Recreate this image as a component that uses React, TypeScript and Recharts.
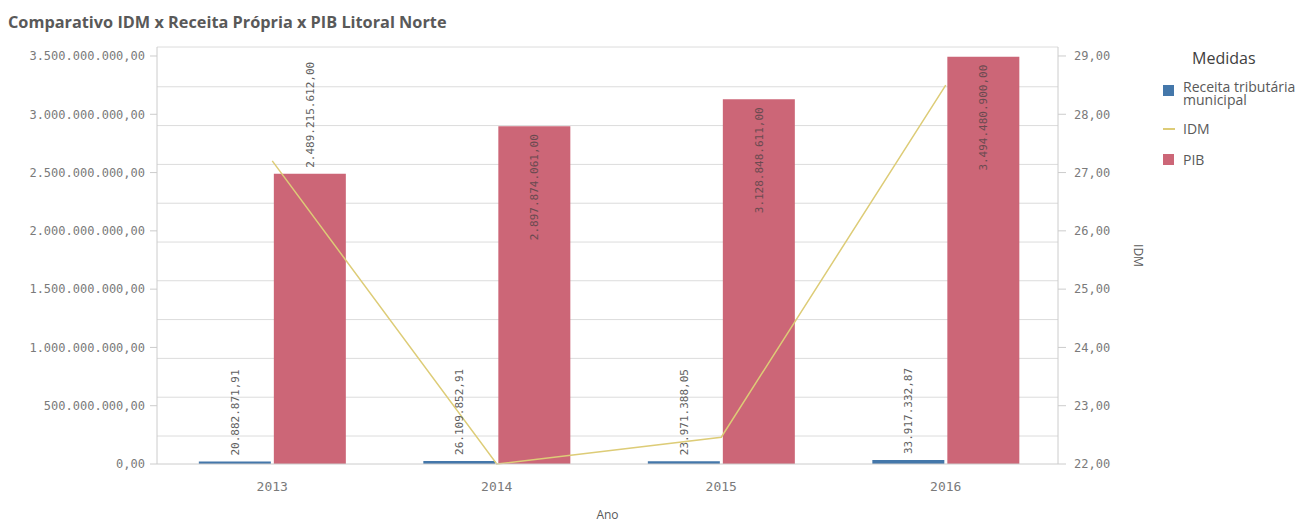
import React from 'react';
import {
  ComposedChart,
  Bar,
  Line,
  XAxis,
  YAxis,
  LabelList,
  ReferenceLine,
  CartesianGrid,
} from 'recharts';

// ---- data ----
const years = ['2013', '2014', '2015', '2016'];
const receita = [20882871.91, 26109852.91, 23971388.05, 33917332.87];
const idm = [27.2, 22.0, 22.46, 28.5];
const pib = [2489215612.0, 2897874061.0, 3128848611.0, 3494480900.0];

const leftTicks = [0, 500000000, 1000000000, 1500000000, 2000000000, 2500000000, 3000000000, 3500000000];
const rightTicks = [22, 23, 24, 25, 26, 27, 28, 29];
// horizontal grid levels (left-axis units) as drawn by the source chart
const gridLevels = [240e6, 573e6, 906e6, 1239e6, 1572e6, 1904e6, 2237e6, 2570e6, 2903e6, 3236e6];

const seriesNames = { receita: 'Receita tributária municipal', idm: 'IDM', pib: 'PIB' };

const data = years.map((y, i) => ({ ano: y, receita: receita[i], idm: idm[i], pib: pib[i] }));

// ---- styles ----
const BLUE = '#4477aa';
const YELLOW = '#ddcc77';
const RED = '#cc6677';
const AXIS_TEXT = '#7a7a7a';
const GRID = '#dcdcdc';
const MONO = '"DejaVu Sans Mono", monospace';
const SANS = '"Open Sans", "Noto Sans", sans-serif';

const W = 1312;
const H = 523;
const PLOT_TOP = 47;
const LEFT_MAX = 3577200000;
const RIGHT_MAX = 29.154;

function fmtBR(v: number): string {
  const neg = v < 0;
  const [int, dec] = Math.abs(v).toFixed(2).split('.');
  const withDots = int.replace(/\B(?=(\d{3})+(?!\d))/g, '.');
  return (neg ? '-' : '') + withDots + ',' + dec;
}

const makeLabel = (canGoInside: boolean) => (props: any) => {
  const { x, y, width, value } = props;
  if (value == null) return null;
  const text = fmtBR(Number(value));
  const fs = 11;
  const len = text.length * fs * 0.602;
  const cx = Number(x) + Number(width) / 2;
  const top = Number(y);
  const outside = !canGoInside || top - PLOT_TOP >= len + 12;
  const ay = outside ? top - 6 : top + 8;
  return (
    <text
      x={cx}
      y={ay}
      transform={`rotate(-90 ${cx} ${ay})`}
      textAnchor={outside ? 'start' : 'end'}
      dy="0.35em"
      fontSize={fs}
      fontFamily={MONO}
      fill={outside ? '#5f5f5f' : '#6a4a50'}
    >
      {text}
    </text>
  );
};

// place grid lines at the left-axis levels, using the plot offset the chart computed
const gridGenerator = (props: any) => {
  const off = props?.offset;
  if (!off || typeof off.top !== 'number' || typeof off.height !== 'number') return [];
  return gridLevels.map((g) => off.top + off.height * (1 - g / LEFT_MAX));
};

const legendItems = [
  { key: 'receita', color: BLUE, kind: 'square' },
  { key: 'idm', color: YELLOW, kind: 'line' },
  { key: 'pib', color: RED, kind: 'square' },
];
const legendTops = [80, 122, 153];

export default function App() {
  return (
    <div style={{ position: 'absolute', left: 0, top: 0, width: W, height: H, background: '#fff' }}>
      <div
        style={{
          position: 'absolute',
          left: 8,
          top: 10,
          fontFamily: SANS,
          fontWeight: 700,
          fontSize: 16.3,
          lineHeight: '24px',
          color: '#595959',
          whiteSpace: 'nowrap',
        }}
      >
        Comparativo IDM x Receita Própria x PIB Litoral Norte
      </div>

      <ComposedChart
        width={W}
        height={H}
        data={data}
        margin={{ top: PLOT_TOP, right: 94, bottom: 0, left: 0 }}
        barCategoryGap="17.3%"
        barGap={3}
      >
        <CartesianGrid
          yAxisId="left"
          vertical={false}
          stroke={GRID}
          horizontalCoordinatesGenerator={gridGenerator}
        />
        <XAxis
          dataKey="ano"
          height={59}
          padding={{ left: 3, right: 0 }}
          tickLine={false}
          tickSize={6}
          tickMargin={12}
          axisLine={{ stroke: '#cccccc' }}
          tick={{ fill: AXIS_TEXT, fontSize: 13, fontFamily: MONO }}
          label={{ value: 'Ano', position: 'insideBottom', offset: 4, fill: '#595959', fontSize: 12, fontFamily: SANS }}
        />
        <YAxis
          yAxisId="left"
          orientation="left"
          width={157}
          domain={[0, LEFT_MAX]}
          ticks={leftTicks}
          tickFormatter={(v: number) => fmtBR(v)}
          tickSize={7}
          tickMargin={5}
          tickLine={{ stroke: '#cccccc' }}
          axisLine={{ stroke: '#cccccc' }}
          tick={{ fill: AXIS_TEXT, fontSize: 12, fontFamily: MONO }}
          interval={0}
        />
        <YAxis
          yAxisId="right"
          orientation="right"
          width={160}
          domain={[22, RIGHT_MAX]}
          ticks={rightTicks}
          tickFormatter={(v: number) => fmtBR(v)}
          tickSize={8}
          tickMargin={8}
          tickLine={{ stroke: '#cccccc' }}
          axisLine={{ stroke: '#cccccc' }}
          tick={{ fill: AXIS_TEXT, fontSize: 12, fontFamily: MONO }}
          interval={0}
          label={{ value: 'IDM', angle: 90, position: 'center', fill: '#595959', fontSize: 12, fontFamily: SANS }}
        />
        <ReferenceLine yAxisId="left" y={LEFT_MAX} stroke={GRID} />
        <Bar yAxisId="left" dataKey="receita" name={seriesNames.receita} fill={BLUE} isAnimationActive={false}>
          <LabelList dataKey="receita" content={makeLabel(false)} />
        </Bar>
        <Bar yAxisId="left" dataKey="pib" name={seriesNames.pib} fill={RED} isAnimationActive={false}>
          <LabelList dataKey="pib" content={makeLabel(true)} />
        </Bar>
        <Line
          yAxisId="right"
          dataKey="idm"
          name={seriesNames.idm}
          type="linear"
          stroke={YELLOW}
          strokeWidth={1.5}
          dot={false}
          activeDot={false}
          isAnimationActive={false}
        />
      </ComposedChart>

      <div style={{ position: 'absolute', left: 1192, top: 46, fontFamily: SANS, fontSize: 16, lineHeight: '24px', color: '#404040' }}>
        Medidas
      </div>
      {legendItems.map((it, i) => (
        <div
          key={it.key}
          style={{ position: 'absolute', left: 1163, top: legendTops[i], display: 'flex', alignItems: 'flex-start', fontFamily: SANS, color: '#595959' }}
        >
          <div style={{ width: 12, height: 13, display: 'flex', alignItems: 'center', marginRight: 8, marginTop: it.key === 'receita' ? 4 : 0 }}>
            {it.kind === 'square' ? (
              <div style={{ width: 11, height: 11, background: it.color }} />
            ) : (
              <div style={{ width: 12, height: 2, background: it.color }} />
            )}
          </div>
          <div style={{ fontSize: 14, lineHeight: '13px', width: 135 }}>
            {seriesNames[it.key as keyof typeof seriesNames]}
          </div>
        </div>
      ))}
    </div>
  );
}
